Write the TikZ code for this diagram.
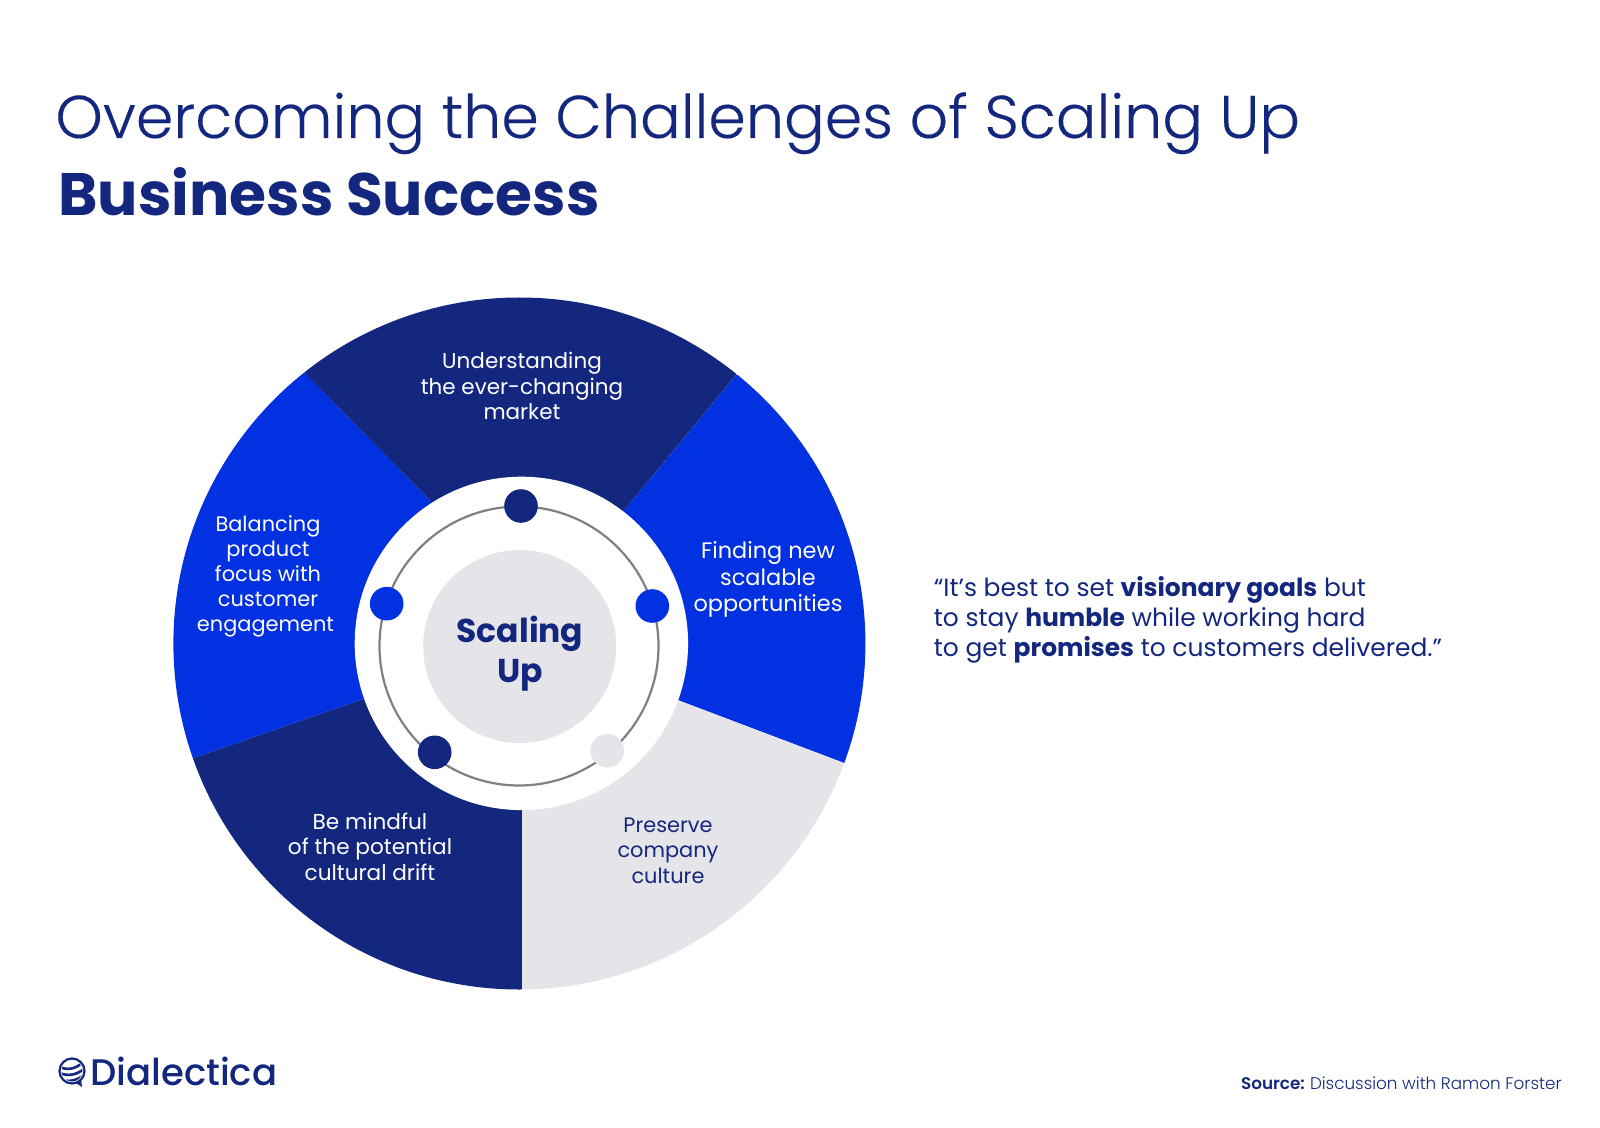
\documentclass[tikz,border=0pt]{standalone}
\usepackage{fontspec}
\setmainfont{Poppins}
\newfontfamily\poplight{Poppins Light}
\newfontfamily\poptitle[FakeBold=0.2]{Poppins Light}
\newfontfamily\popmed{Poppins Medium}
\definecolor{navy}{HTML}{14277F}
\definecolor{vivid}{HTML}{0131E0}
\definecolor{pale}{HTML}{E5E4E8}
\definecolor{ringgrey}{HTML}{808080}
\newcommand{\lblfont}[2]{\fontsize{#1}{#2}\selectfont}
\tikzset{
  seglabel/.style={align=center,inner sep=0pt,anchor=center},
  dotmark/.style={circle,minimum size=16.8pt,inner sep=0pt},
  quoteline/.style={anchor=base west,inner sep=0pt,text=navy,font=\fontsize{12.47}{12.47}\selectfont},
}
\begin{document}
\begin{tikzpicture}[x=0.5pt,y=-0.5pt]
\useasboundingbox (0,0) rectangle (1600,1128);
\fill[white] (0,0) rectangle (1600,1128);
% title
\node[anchor=base west,inner sep=0pt,text=navy,font=\poptitle\fontsize{30.15}{30}\selectfont] (title) at (55,138) {Overcoming the Challenges of Scaling Up};
\node[anchor=base west,inner sep=0pt,text=navy,font=\bfseries\fontsize{29.95}{30}\selectfont] (subtitle) at (58,216) {Business Success};
% wheel
\begin{scope}
\clip (519.4,643.5) circle (346);
\fill[vivid] (735.7,375.5) -- (540,612) -- (519,640) -- (1000,822) -- (1000,200) -- cycle;
\fill[pale] (1000,822) -- (519,640) -- (521.9,645) -- (521.9,1100) -- (1000,1100) -- cycle;
\fill[navy] (521.9,1100) -- (521.9,645) -- (519,645) -- (0,825) -- (0,1100) -- cycle;
\fill[vivid] (0,825) -- (519,645) -- (540,612) -- (100,165) -- (0,165) -- cycle;
\fill[navy] (100,165) -- (540,612) -- (860,225) -- (860,100) -- (100,100) -- cycle;
\end{scope}
\fill[white] (521.4,643.4) circle (166.7);
\draw[ringgrey,line width=1.1pt] (519,646) circle (139.5);
\fill[pale] (519.7,646.5) circle (96.5);
\node[dotmark,fill=navy] (d1) at (521,506) {};
\node[dotmark,fill=vivid] (d2) at (652.3,606) {};
\node[dotmark,fill=pale] (d3) at (607.3,750.7) {};
\node[dotmark,fill=navy] (d4) at (434.7,752.3) {};
\node[dotmark,fill=vivid] (d5) at (386.7,603.7) {};
\node[align=center,inner sep=0pt,text=navy,font=\bfseries\fontsize{16.5}{20}\selectfont] (hub) at (520,654) {Scaling\\Up};
% labels
\node[seglabel,text=white,font=\lblfont{10.75}{12.75}] (l1) at (522,386) {Understanding\\the ever-changing\\market};
\node[seglabel,text=white,font=\lblfont{11.2}{13.25}] (l2) at (768,579.5) {Finding new\\scalable\\opportunities};
\node[seglabel,text=navy,font=\lblfont{10.45}{12.7}] (l3) at (668,850.5) {Preserve\\company\\culture};
\node[seglabel,text=white,font=\lblfont{10.8}{12.7}] (l4) at (370,846.5) {Be mindful\\of the potential\\cultural drift};
\node[seglabel,text=white,font=\lblfont{10.45}{12.5}] (l5) at (268,576.5) {Balancing\\product\\focus with\\customer\\engagement\hspace*{2.5pt}};
% quote
\node[quoteline] (q1) at (933.5,596.5) {“It’s best to set {\bfseries visionary goals} but};
\node[quoteline] (q2) at (933.5,626.5) {to stay {\bfseries humble} while working hard};
\node[quoteline] (q3) at (933.5,656.5) {to get {\bfseries promises} to customers delivered.”};
% footer
\node[anchor=base east,inner sep=0pt,text=navy,font=\poplight\fontsize{8.4}{8.4}\selectfont] (src) at (1562,1089) {{\fontspec{Poppins SemiBold}Source:}\hspace{-0.5pt} Discussion with Ramon Forster};
\node[anchor=base west,inner sep=0pt,text=navy,font=\popmed\fontsize{18.5}{18.5}\selectfont] (logo) at (90,1085) {Dialectica};
% logo globe
\draw[navy,line width=1.1pt] (72,1071) circle (12.5);
\fill[navy] (76,1083) -- (82,1087) -- (81,1079) -- cycle;
\begin{scope}
\clip (72,1071) circle (10.5);
\draw[navy,line width=1.3pt] (58,1066) .. controls (68,1072) and (78,1068) .. (85,1060);
\draw[navy,line width=1.3pt] (58,1072) .. controls (68,1078) and (80,1074) .. (87,1066);
\draw[navy,line width=1.3pt] (58,1078) .. controls (68,1084) and (80,1080) .. (87,1072);
\end{scope}
\end{tikzpicture}
\end{document}
